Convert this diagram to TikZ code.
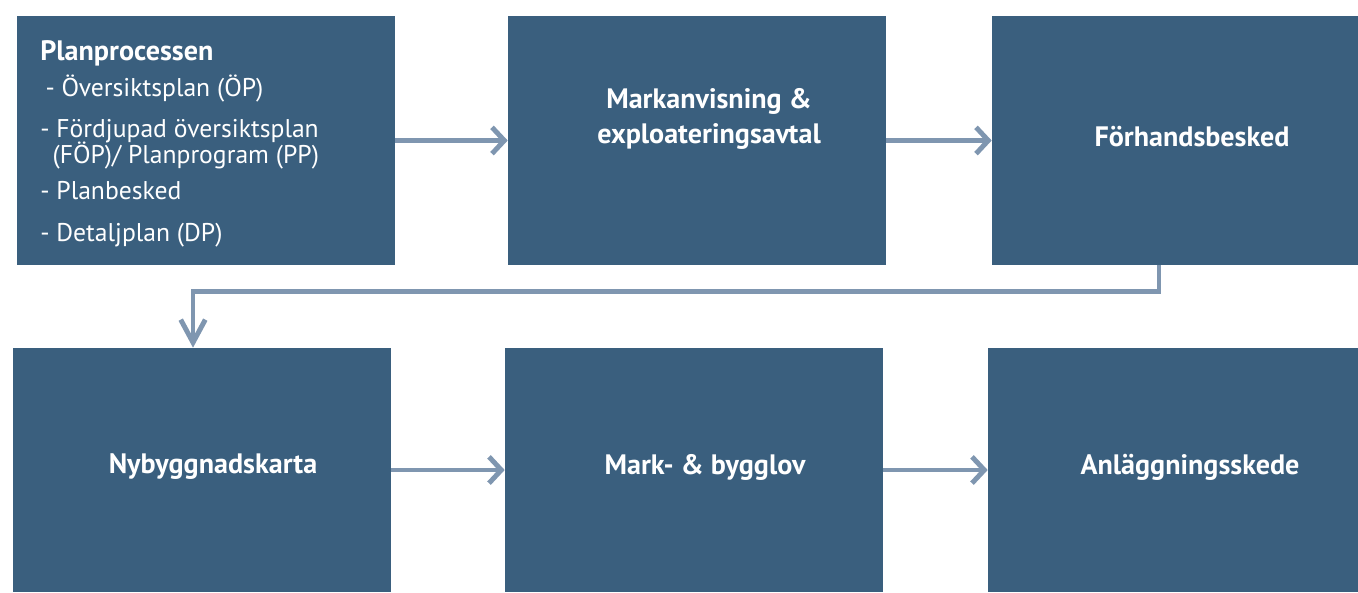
\documentclass[tikz,border=0pt]{standalone}
\usepackage{fontspec}
\setmainfont{PT Sans}
\usetikzlibrary{arrows.meta}
\definecolor{boxblue}{RGB}{58,95,126}
\definecolor{flowgry}{RGB}{127,150,176}
\newcommand\tightlines{\lineskiplimit=-20pt\relax}
\tikzset{
  box/.style={fill=boxblue, inner sep=0pt},
  lbl/.style={text=white, align=center, font=\bfseries\fontsize{16}{20}\selectfont},
  flow/.style={draw=flowgry, line width=2.8pt, -{Straight Barb[length=7pt,width=15pt]}},
  turn/.style={draw=flowgry, line width=2.8pt, -{Straight Barb[length=13pt,width=14pt]}}
}

\begin{document}
\begin{tikzpicture}[x=0.02cm,y=-0.02cm]
  \useasboundingbox (0,0) rectangle (1358,592);
  \node[box, minimum width=7.56cm, minimum height=4.98cm] (plan) at (206,140.5) {};
  \node[box, minimum width=7.56cm, minimum height=4.98cm] (mark) at (697,140.5) {};
  \node[box, minimum width=7.32cm, minimum height=4.98cm] (forh) at (1175,140.5) {};
  \node[box, minimum width=7.56cm, minimum height=4.88cm] (nyb) at (202,470) {};
  \node[box, minimum width=7.56cm, minimum height=4.88cm] (lov) at (694,470) {};
  \node[box, minimum width=7.40cm, minimum height=4.88cm] (anl) at (1173,470) {};
  \node[anchor=north west, inner sep=0pt, text=white, align=left,
        font=\fontsize{14.6}{14.8}\selectfont\tightlines] (plantxt) at (40,40)
    {\textbf{\fontsize{16}{14.8}\selectfont Planprocessen}\\[5.6pt]
     \hspace{3pt}- Översiktsplan (ÖP)\\[9pt]
     - Fördjupad översiktsplan\\
     \hspace{7pt}(FÖP)/ Planprogram (PP)\\[5.6pt]
     - Planbesked\\[9pt]
     - Detaljplan (DP)};
  \node[lbl] (marktxt) at (709,119) {Markanvisning \&\\exploateringsavtal};
  \node[lbl] (forhtxt) at (1192,137) {Förhandsbesked};
  \node[lbl] (nybtxt) at (213,467) {Nybyggnadskarta};
  \node[lbl] (lovtxt) at (705,467) {Mark- \& bygglov};
  \node[lbl] (anltxt) at (1190,467) {Anläggningsskede};
  \draw[flow] (plan.east) -- (mark.west);
  \draw[flow] (mark.east) -- (forh.west);
  \draw[flow] (nyb.east) -- (lov.west);
  \draw[flow] (lov.east) -- (anl.west);
  \draw[turn] ([xshift=-0.32cm]forh.south) -- ++(0,26) -| ([xshift=-0.18cm]nyb.north);
\end{tikzpicture}
\end{document}
